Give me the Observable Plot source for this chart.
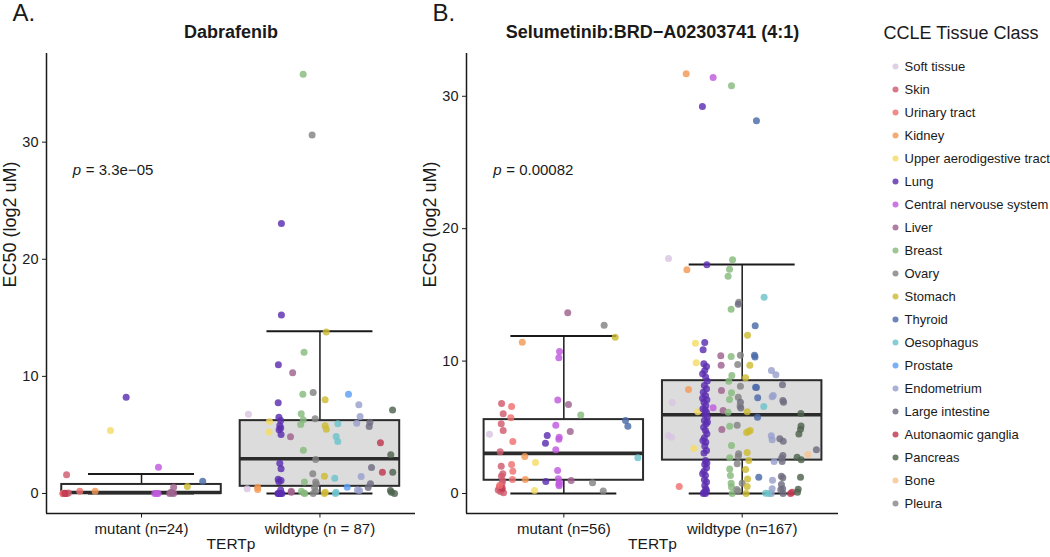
<!DOCTYPE html>
<html><head><meta charset="utf-8">
<script src="https://cdn.jsdelivr.net/npm/d3@7"></script>
<script src="https://cdn.jsdelivr.net/npm/@observablehq/plot@0.6"></script>
<style>
body{margin:0;background:#fff;font-family:"Liberation Sans",Arial,sans-serif;}
#wrap{position:relative;width:1050px;height:557px;overflow:hidden;background:#fff;}
#wrap > div{position:absolute;top:0;}
</style></head><body>
<div id="wrap"><div id="pa" style="left:0"></div><div id="pb" style="left:420px"></div><div id="lg" style="left:850px"></div></div>
<script>
// ---------- data ----------
const tissueCodes = ["ST","Sk","UT","Ki","UA","Lu","CN","Li","Br","Ov","St","Th","Oe","Pr","En","LI","AG","Pa","Bo","Pl"];
const tissueNames = ["Soft tissue","Skin","Urinary tract","Kidney","Upper aerodigestive tract","Lung","Central nervouse system","Liver","Breast","Ovary","Stomach","Thyroid","Oesophagus","Prostate","Endometrium","Large intestine","Autonaomic ganglia","Pancreas","Bone","Pleura"];
const tissueColors = ["#d8c4e2","#cf5a6e","#f07070","#f39a55","#f5dc66","#5c2db0","#bf5ade","#a0628f","#86bb7c","#828282","#cdbb35","#4a6aa8","#6cc3cb","#5d9ff7","#98a0cc","#6f6c80","#c0374f","#4e634e","#f7c491","#888888"];
const legendTitle = "CCLE Tissue Class";

const yLabel = "EC50 (log2 uM)";
const xLabel = "TERTp";
const yTicks = [0, 10, 20, 30];

const titleA = "Dabrafenib";
const tagA = "A.";
const groupLabelsA = ["mutant (n=24)", "wildtype (n = 87)"];
const pValueA = "3.3e\u221205";
const pPosA = [0.615, 27.6];
// [lower whisker, Q1, median, Q3, upper whisker]
const boxStatsA = [[0, 0, 0.08, 0.77, 1.67], [0, 0.61, 2.97, 6.22, 13.85]];
// [tissue, EC50, horizontal jitter]
const pointsAMutant = [
["Lu",8.22,-0.086],["UA",5.38,-0.174],["CN",2.25,0.095],["Sk",1.6,-0.42],["Th",1.05,0.343],["St",0.6,0.257],
["Li",0.54,0.18],["UT",0.2,-0.346],["Ki",0.2,-0.26],["Sk",0,-0.44],["Sk",0,-0.43],["Sk",0,-0.42],
["CN",0,0.074],["CN",0,0.093],["Li",0,0.158],["Li",0,0.18],["Sk",0,-0.435],["AG",0,-0.425],
["CN",0,0.085],["Li",0.05,0.17],["UT",0,-0.44],["Sk",0.05,-0.41],["Li",0.1,0.165],["AG",0.02,-0.43]];
const pointsAWildtype = [
["Br",35.8,-0.094],["Ov",30.6,-0.044],["Lu",23.06,-0.216],["Lu",15.23,-0.216],["St",13.78,0.035],["Br",12.07,-0.089],
["Lu",10.99,-0.233],["Li",10.3,-0.153],["Br",8.48,-0.096],["Ov",8.62,-0.038],["Pr",8.48,0.16],["St",8.0,0.029],
["Lu",7.74,-0.234],["En",7.57,0.218],["Pa",7.12,0.407],["ST",6.77,-0.401],["Br",6.8,-0.105],["En",6.58,0.225],
["Ov",6.38,-0.027],["Br",6.29,-0.094],["Lu",6.23,-0.22],["UA",6.15,-0.283],["Br",5.89,-0.108],["En",6.0,0.206],
["LI",6.09,0.28],["LI",5.72,0.276],["Oe",5.95,0.1],["St",5.78,0.029],["St",5.49,0.036],["Lu",5.81,-0.225],
["Lu",5.44,-0.229],["Lu",5.04,-0.218],["UA",5.24,-0.285],["Li",4.84,-0.165],["Oe",4.87,0.091],["Oe",4.44,0.1],
["AG",4.33,0.339],["Br",3.7,-0.093],["Pa",3.3,0.397],["Ov",2.9,-0.024],["Lu",2.59,-0.225],["Lu",2.11,-0.218],
["LI",2.22,0.289],["AG",1.82,0.35],["Pa",1.82,0.408],["Ov",1.68,-0.04],["St",1.48,0.025],["Oe",1.31,0.083],
["En",1.45,0.231],["LI",0.83,0.283],["Br",0.97,-0.087],["Ov",0.97,-0.024],["Lu",1.22,-0.234],["Lu",1.11,-0.218],
["Pr",0.54,0.153],["En",0.26,0.222],["ST",0.4,-0.408],["Ki",0.34,-0.349],["Ki",0.54,-0.349],["Lu",0,-0.236],
["Lu",0,-0.225],["Lu",0,-0.213],["Li",0.2,-0.161],["Br",0.2,-0.104],["Br",0,-0.085],["Ov",0,-0.038],
["Ov",0.2,-0.024],["St",0,0.025],["Oe",0,0.087],["Pa",0.26,0.395],["Pa",0,0.418],["Lu",0,-0.23],
["Lu",0,-0.22],["Lu",0,-0.228],["Lu",0.3,-0.22],["Br",0.05,-0.09],["Ov",0.5,-0.03],["St",0.1,0.03],
["Oe",0.1,0.09],["LI",0.5,0.27],["En",0.3,0.21],["Pa",0.1,0.4],["Lu",6.5,-0.23],["Lu",5.6,-0.22],
["Ov",0.8,-0.02],["Lu",1.0,-0.23],["Li",0.1,-0.16]];

const titleB = "Selumetinib:BRD\u2212A02303741 (4:1)";
const tagB = "B.";
const groupLabelsB = ["mutant (n=56)", "wildtype (n=167)"];
const pValueB = "0.00082";
const pPosB = [0.604, 24.4];
const boxStatsB = [[0, 1.0, 3.03, 5.58, 11.9], [0, 2.52, 5.95, 8.52, 17.3]];
const pointsBMutant = [
["Li",13.65,0.022],["Ov",12.71,0.226],["St",11.81,0.288],["Ki",11.43,-0.233],["CN",10.72,-0.024],["CN",10.25,-0.028],
["CN",7.07,-0.034],["Li",6.72,0.026],["Sk",6.8,-0.349],["UT",6.57,-0.293],["Sk",6.02,-0.34],["UT",5.72,-0.297],
["Br",5.92,0.095],["Th",5.51,0.346],["Th",5.08,0.359],["Sk",5.26,-0.351],["CN",5.16,-0.045],["Sk",4.76,-0.34],
["Li",4.68,0.036],["ST",4.48,-0.417],["Lu",4.38,-0.093],["CN",4.25,-0.026],["CN",4.1,-0.028],["Lu",3.8,-0.103],
["UT",3.93,-0.286],["CN",3.3,-0.045],["Sk",3.15,-0.357],["Oe",2.7,0.415],["Ki",2.8,-0.219],["UA",2.34,-0.159],
["Sk",2.06,-0.351],["UT",2.19,-0.293],["Sk",1.49,-0.342],["UT",1.69,-0.286],["Ki",1.06,-0.216],["Sk",0.98,-0.344],
["UT",1.06,-0.288],["CN",1.74,-0.035],["Lu",0.91,-0.101],["CN",1.11,-0.031],["CN",0.85,-0.024],["CN",0.58,-0.026],
["Li",0.98,0.041],["Ov",0.81,0.161],["Ov",0.18,0.221],["UA",0.23,-0.164],["Sk",0.48,-0.361],["Sk",0.27,-0.35],
["Sk",0.05,-0.338],["Sk",0.27,-0.368],["Sk",0.78,-0.346],["Sk",0.15,-0.355],["AG",0.4,-0.345],["UT",0.6,-0.36],
["Sk",1.3,-0.35],["CN",0.7,-0.028]];
const pointsBWildtype = [
["Ki",31.7,-0.314],["CN",31.42,-0.163],["Br",30.79,-0.06],["Lu",29.23,-0.223],["Th",28.15,0.08],
["ST",17.75,-0.413],["Br",17.65,-0.054],["Lu",17.27,-0.198],["Ki",16.9,-0.31],["Br",16.94,-0.071],["Br",16.41,-0.079],
["Ov",14.45,-0.019],["LI",14.3,-0.022],["Oe",14.83,0.123],["Br",13.92,-0.062],["Th",12.66,0.073],["St",11.96,0.03],
["UA",11.35,-0.262],["Lu",11.4,-0.21],["Lu",10.85,-0.219],["Li",10.4,-0.12],["Br",10.35,-0.062],["Ov",10.45,-0.01],
["Th",10.45,0.069],["Th",10.3,0.072],["Li",9.69,-0.118],["Ov",9.74,-0.025],["St",9.69,0.043],["UA",9.87,-0.258],
["En",9.29,0.164],["En",8.96,0.189],["Br",8.91,-0.058],["St",8.74,0.019],["Br",8.48,-0.075],["Ov",8.1,-0.01],
["Th",8.03,0.075],["Th",8.0,0.08],["LI",8.21,0.226],["Ki",7.85,-0.301],["Li",7.78,-0.116],["Br",7.6,-0.06],
["Br",7.1,-0.071],["Ov",7.27,-0.022],["LI",6.9,-0.01],["Ov",6.6,-0.012],["LI",6.45,-0.008],["Th",7.23,0.087],
["En",7.4,0.174],["En",7.3,0.168],["LI",7.02,0.228],["LI",6.9,0.232],["Oe",6.57,0.121],["ST",6.87,-0.392],
["CN",6.47,-0.163],["Li",6.27,-0.107],["Br",6.14,-0.079],["UA",6.17,-0.249],["St",6.17,0.028],["Th",5.76,0.086],
["Pa",6.04,0.329],["Li",4.83,-0.114],["Br",5.08,-0.07],["Ov",5.16,-0.028],["St",4.6,0.025],["St",4.68,0.035],
["St",4.76,0.045],["Pa",4.5,0.318],["Pa",4.86,0.327],["En",4.36,0.163],["En",4.06,0.168],["LI",4.13,0.211],
["LI",3.95,0.23],["ST",4.38,-0.415],["ST",4.25,-0.396],["Br",3.63,-0.06],["UA",3.4,-0.271],["Bo",2.95,0.368],
["LI",3.3,0.416],["Ov",2.79,-0.022],["St",3.1,0.028],["LI",2.87,0.228],["LI",2.67,0.221],["Pa",2.74,0.308],
["Pa",2.54,0.331],["St",2.49,0.037],["En",2.42,0.179],["Ov",2.24,-0.028],["LI",2.42,0.224],["Br",1.86,-0.07],
["St",1.81,0.019],["Br",1.36,-0.066],["Th",1.23,0.093],["Pa",1.23,0.327],["LI",1.19,0.228],["Br",0.78,-0.062],
["Ov",0.78,0],["St",0.53,0.028],["LI",0.68,0.22],["LI",0.35,0.227],["Pa",0.33,0.314],["UT",0.53,-0.353],
["Br",0,-0.056],["Ov",0.18,-0.024],["St",0,0.022],["Oe",0.02,0.131],["En",0.35,0.168],["En",0,0.163],
["LI",0,0.229],["LI",0.28,0.216],["AG",0,0.271],["AG",0.1,0.28],["Oe",0,0.149],["Pa",0.1,0.31],
["Pa",5.1,0.33],["Ov",3.0,-0.02],["LI",1.3,0.22],["Br",0.5,-0.06],["Pl",0.3,-0.03],["En",1.0,0.17],
["St",1.1,0.03],["Br",2.7,-0.07],
["Lu",9.79,-0.215],["Lu",9.59,-0.2],["Lu",9.29,-0.21],["Lu",9.04,-0.222],["Lu",8.79,-0.205],["Lu",8.49,-0.196],
["Lu",8.16,-0.212],["Lu",7.91,-0.2],["Lu",7.65,-0.218],["Lu",7.4,-0.206],["Lu",7.08,-0.198],["Lu",6.9,-0.214],
["Lu",6.65,-0.204],["Lu",6.4,-0.22],["Lu",6.14,-0.2],["Lu",5.97,-0.21],["Lu",5.77,-0.196],["Lu",5.51,-0.212],
["Lu",5.26,-0.202],["Lu",5.01,-0.216],["Lu",4.76,-0.206],["Lu",4.51,-0.198],["Lu",4.21,-0.212],["Lu",3.88,-0.204],
["Lu",3.58,-0.21],["Lu",3.25,-0.2],["Lu",3.05,-0.214],["Lu",2.49,-0.206],["Lu",2.19,-0.21],["Lu",1.94,-0.2],
["Lu",1.69,-0.214],["Lu",1.36,-0.206],["Lu",1.03,-0.212],["Lu",0.86,-0.2],["Lu",0.6,-0.21],["Lu",0.35,-0.204],
["Lu",0.1,-0.214],["Lu",0,-0.206],["Lu",0,-0.218],["Lu",0.2,-0.2],["Lu",1.5,-0.222],["Lu",2.3,-0.198],
["Lu",4.0,-0.22],["Lu",5.4,-0.195],["Lu",6.3,-0.208],["Lu",7.2,-0.222]];

// ---------- drawing ----------
const FONT = "'Liberation Sans', Arial, Helvetica, sans-serif";
const INK = "#1a1a1a";
const BOX_HALF = 0.447, CAP_HALF = 0.297;

function panel(o) {
  const rows = [];
  o.mutant.forEach(([t, v, j]) => rows.push({t, v, x: 1 + j}));
  o.wildtype.forEach(([t, v, j]) => rows.push({t, v, x: 2 + j}));
  const boxes = o.stats.map((s, i) => ({g: i + 1, lo: s[0], q1: s[1], med: s[2], q3: s[3], hi: s[4]}));
  const bx1 = d => d.g - BOX_HALF, bx2 = d => d.g + BOX_HALF;
  const cx1 = d => d.g - CAP_HALF, cx2 = d => d.g + CAP_HALF;
  return Plot.plot({
    width: o.width, height: 557,
    marginLeft: 46, marginRight: o.marginRight, marginTop: 53, marginBottom: 44,
    style: {fontFamily: FONT, background: "white", overflow: "visible", color: INK},
    x: {type: "linear", domain: o.xDomain},
    y: {domain: o.yDomain},
    color: {domain: tissueCodes, range: tissueColors},
    marks: [
      Plot.ruleX(boxes, {x: "g", y1: "lo", y2: "hi", stroke: INK, strokeWidth: 1.5}),
      Plot.ruleY(boxes, {y: "hi", x1: cx1, x2: cx2, stroke: INK, strokeWidth: 2}),
      Plot.ruleY(boxes, {y: "lo", x1: cx1, x2: cx2, stroke: INK, strokeWidth: 2}),
      Plot.rect([boxes[0]], {x1: bx1, x2: bx2, y1: "q1", y2: "q3", fill: "white", stroke: "#2b2b2b", strokeWidth: 2}),
      Plot.rect([boxes[1]], {x1: bx1, x2: bx2, y1: "q1", y2: "q3", fill: "#dcdcdc", stroke: "#2b2b2b", strokeWidth: 2}),
      Plot.ruleY(boxes, {y: "med", x1: bx1, x2: bx2, stroke: "#2b2b2b", strokeWidth: 3.6}),
      Plot.dot(rows, {x: "x", y: "v", r: 3.5, fill: "t", fillOpacity: 0.82}),
      Plot.ruleX([o.xDomain[0]], {stroke: INK, strokeWidth: 1.5}),
      Plot.ruleY([o.yDomain[0]], {stroke: INK, strokeWidth: 1.5}),
      Plot.axisX({ticks: [1, 2], tickFormat: d => o.labels[d - 1], tickSize: 4.5, tickPadding: 5, fontSize: 15, label: null}),
      Plot.axisY({ticks: yTicks, tickSize: 4, tickPadding: 4, fontSize: 14.5, label: null}),
      Plot.text([o.title], {text: d => d, frameAnchor: "top", lineAnchor: "middle", dy: -21, fontSize: 18, fontWeight: "bold"}),
      Plot.text([o.tag], {text: d => d, frameAnchor: "top-left", lineAnchor: "middle", dx: -34, dy: -40, textAnchor: "start", fontSize: 24}),
      Plot.text([yLabel], {text: d => d, frameAnchor: "left", lineAnchor: "middle", dx: -36, dy: 4, rotate: -90, fontSize: 18}),
      Plot.text([xLabel], {text: d => d, frameAnchor: "bottom", lineAnchor: "middle", dy: 31, fontSize: 15.5}),
      Plot.text([o.p], {x: o.pPos[0], y: o.pPos[1], text: () => "p", fontStyle: "italic", textAnchor: "start", fontSize: 15}),
      Plot.text([o.p], {x: o.pPos[0], y: o.pPos[1], text: d => "= " + d, dx: 13, textAnchor: "start", fontSize: 15})
    ]
  });
}

document.getElementById("pa").append(panel({
  width: 420, marginRight: 5, xDomain: [0.4675, 2.5355], yDomain: [-1.71, 37.57],
  mutant: pointsAMutant, wildtype: pointsAWildtype, stats: boxStatsA,
  labels: groupLabelsA, title: titleA, tag: tagA, p: pValueA, pPos: pPosA
}));
document.getElementById("pb").append(panel({
  width: 430, marginRight: 12, xDomain: [0.4543, 2.54], yDomain: [-1.51, 33.23],
  mutant: pointsBMutant, wildtype: pointsBWildtype, stats: boxStatsB,
  labels: groupLabelsB, title: titleB, tag: tagB, p: pValueB, pPos: pPosB
}));

document.getElementById("lg").append(Plot.plot({
  width: 200, height: 557, margin: 0,
  style: {fontFamily: FONT, background: "white", overflow: "visible", color: INK},
  x: {domain: [0, 1], range: [45, 55], axis: null},
  y: {type: "point", domain: tissueCodes, range: [60, 508.3], padding: 0, axis: null},
  color: {domain: tissueCodes, range: tissueColors},
  marks: [
    Plot.dot(tissueCodes, {x: () => 0, y: d => d, fill: d => d, r: 3, fillOpacity: 0.82}),
    Plot.text(tissueCodes, {x: () => 0, y: d => d, text: (d, i) => tissueNames[i], dx: 9, textAnchor: "start", fontSize: 13}),
    Plot.text([legendTitle], {text: d => d, frameAnchor: "top-left", lineAnchor: "middle", dx: 33, dy: 33, textAnchor: "start", fontSize: 18})
  ]
}));
</script></body></html>
